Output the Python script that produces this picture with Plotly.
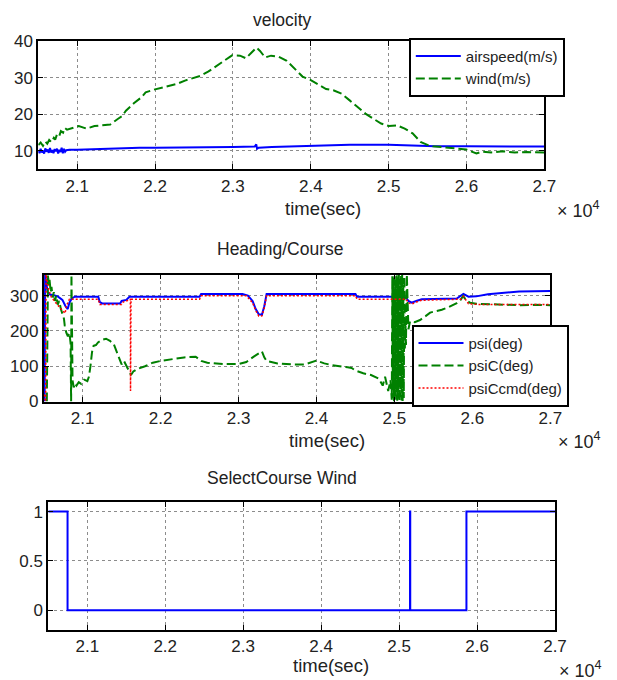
import plotly.graph_objects as go

W, H = 617, 680

# ---------------- data ----------------
# velocity panel
airspeed_t = [20500, 20515, 20530, 20545, 20560, 20575, 20590, 20605, 20620, 20635, 20650, 20665,
              20680, 20695, 20710, 20725, 20740, 20755, 20770, 20785, 20800, 20815, 20830, 20845,
              20860, 20900, 21000, 21200, 21500, 21800, 22000, 22500, 23000, 23280, 23300, 23310,
              23330, 23500, 24000, 24500, 25000, 25300, 25600, 26000, 26500, 27000]
airspeed_v = [10.2, 9.4, 10.6, 9.6, 10.1, 9.3, 10.7, 9.8, 10.4, 9.5, 10.8, 9.6,
              10.2, 9.4, 10.5, 9.9, 10.6, 9.3, 10.3, 9.7, 10.9, 9.4, 10.6, 9.8,
              10.2, 10.3, 10.3, 10.5, 10.6, 10.9, 10.9, 10.9, 11.1, 11.2, 11.8, 10.6,
              10.9, 11.1, 11.4, 11.7, 11.7, 11.5, 11.3, 11.3, 11.2, 11.2]

wind_t = [20500, 20530, 20560, 20590, 20615, 20640, 20670, 20700, 20717, 20740, 20768, 20790,
          20818, 20840, 20869, 20919, 21020, 21121, 21222, 21323, 21424, 21525, 21576, 21626,
          21727, 21828, 21879, 21980, 22081, 22182, 22283, 22384, 22485, 22586, 22687, 22788,
          22889, 22990, 23091, 23167, 23237, 23303, 23348, 23414, 23490, 23591, 23692, 23793,
          23894, 23995, 24096, 24197, 24298, 24399, 24500, 24601, 24702, 24803, 24904, 25005,
          25106, 25207, 25308, 25409, 25506, 25567, 25611, 25712, 25813, 25914, 26000, 26128,
          26192, 26318, 26470, 26621, 26773, 27000]
wind_v = [11.6, 12.3, 11.4, 12.6, 12.0, 13.0, 12.4, 13.6, 13.1, 14.5, 14.0, 15.4,
          15.0, 16.3, 15.8, 16.1, 16.8, 16.1, 16.8, 17.0, 17.2, 18.8, 19.5, 21.0,
          23.0, 24.7, 26.0, 26.7, 27.2, 27.7, 28.3, 29.2, 29.8, 30.5, 31.7, 33.2,
          34.8, 36.1, 36.0, 35.3, 36.8, 38.2, 37.3, 35.5, 36.0, 35.7, 34.6, 32.3,
          30.3, 29.4, 28.1, 26.9, 26.5, 25.6, 23.8, 22.0, 20.2, 18.8, 17.5, 16.8,
          17.0, 16.1, 14.8, 12.5, 11.6, 11.3, 11.2, 11.0, 10.9, 10.6, 10.4, 9.3,
          9.8, 9.6, 9.9, 9.6, 9.7, 9.6]

# heading / course panel
psi_t = [20505, 20512, 20518, 20530, 20550, 20580, 20620, 20680, 20740, 20780, 20808, 20830,
         20860, 20900, 21200, 21220, 21250, 21480, 21500, 21560, 21600, 22500, 22520, 23050,
         23120, 23180, 23220, 23260, 23300, 23330, 23360, 24500, 24520, 25000, 25150, 25180,
         25220, 25280, 25350, 25800, 25885, 25950, 26050, 26200, 26400, 26600, 27000]
psi_v = [15, 0, 360, 335, 310, 303, 302, 298, 288, 270, 262, 280,
         292, 297, 297, 282, 278, 278, 285, 288, 297, 297, 305, 305,
         300, 285, 262, 247, 246, 270, 305, 305, 297, 297, 295, 285,
         280, 285, 290, 292, 305, 297, 298, 304, 308, 312, 313]

psiC_t = [20540, 20555, 20565, 20575, 20590, 20600, 20615, 20630, 20645, 20660, 20680, 20700,
          20720, 20740, 20760, 20770, 20790, 20810, 20830, 20845, 20852, 20856, 20870, 20885,
          20900, 20920, 20950, 20980, 21020, 21060, 21080, 21100, 21120, 21140, 21170, 21200,
          21250, 21300, 21350, 21400, 21440, 21470, 21500, 21530, 21560, 21590, 21620, 21650,
          21700, 21800, 21900, 22000, 22100, 22200, 22300, 22450, 22520, 22600, 22800, 23000,
          23100, 23200, 23280, 23300, 23330, 23360, 23500, 23700, 23850, 24000, 24100, 24200,
          24400, 24450, 24500, 24600, 24700, 24800, 24850, 24880, 24920, 24950,
          24966, 24973, 24980, 24987, 24994, 25001, 25008, 25015, 25022, 25029, 25036, 25043,
          25050, 25057, 25064, 25071, 25078, 25085, 25092, 25099, 25106, 25113, 25120, 25127,
          25134, 25141, 25148, 25159, 25180, 25200, 25260, 25329, 25400, 25458, 25530, 25608,
          25700, 25800, 25850, 25881, 25930, 25970, 26050, 26200, 26400, 26600, 26800, 27000]
psiC_v = [0, 360, 330, 345, 310, 325, 295, 310, 285, 300, 275, 285,
          262, 250, 235, 215, 195, 185, 195, 165, 0, 360, 60, 40,
          52, 45, 55, 50, 62, 58, 70, 100, 140, 158, 160, 168,
          175, 178, 172, 162, 140, 120, 105, 115, 100, 85, 75, 85,
          92, 100, 110, 115, 118, 120, 125, 127, 115, 110, 106, 106,
          112, 128, 140, 142, 125, 115, 108, 105, 105, 116, 108, 103,
          97, 95, 88, 80, 75, 65, 45, 70, 30, 60,
          5, 355, 10, 350, 0, 360, 15, 345, 5, 358, 2, 352,
          8, 360, 0, 348, 12, 356, 3, 360, 0, 350, 10, 355,
          150, 230, 160, 360, 205, 227, 225, 231, 242, 252, 256, 260,
          268, 279, 288, 299, 285, 280, 277, 276, 275, 273, 274, 273]

psiCcmd_t = [20505, 20525, 20530, 20560, 20600, 20650, 20700, 20740, 20775, 20790, 20830, 21200,
             21220, 21500, 21520, 21600, 21612, 21614, 21620, 22500, 22520, 23100, 23180, 23220,
             23260, 23300, 23330, 23360, 24500, 24520, 25150, 25180, 25220, 25280, 25350, 25850,
             25885, 25950, 26100, 27000]
psiCcmd_v = [20, 0, 360, 320, 295, 280, 268, 258, 250, 270, 290, 290,
             275, 275, 282, 288, 290, 30, 290, 290, 300, 300, 280, 258,
             242, 243, 265, 300, 300, 290, 290, 280, 276, 282, 287, 290,
             298, 277, 275, 275]

# select course wind panel
select_t = [20500, 20747, 25140, 25143, 25864, 27000]
select_v = [1, 0, 1, 0, 1, 1]

xtick_vals = [21000, 22000, 23000, 24000, 25000, 26000, 27000]
xtick_text = ["2.1", "2.2", "2.3", "2.4", "2.5", "2.6", "2.7"]
vel_ticks = [10, 20, 30, 40]
head_ticks = [0, 100, 200, 300]
sel_ticks = [0, 0.5, 1]
sel_tick_text = ["0", "0.5", "1"]

# ---------------- layout helpers ----------------
def px(x):
    return x / W

def py(y):
    return 1 - y / H

FONT = "Liberation Sans, Arial, sans-serif"
TXT = "#222222"
BLUE = "rgb(0,0,255)"
GREEN = "rgb(0,128,0)"
RED = "rgb(255,0,0)"

panels = [
    # (x0, x1, ytop, ybottom)
    (38.3, 544.3, 41.0, 169.3),
    (43.7, 550.3, 274.5, 401.5),
    (48.3, 555.0, 501.7, 630.0),
]

fig = go.Figure()

fig.add_trace(go.Scatter(x=airspeed_t, y=airspeed_v, mode="lines", name="airspeed(m/s)",
                         line=dict(color=BLUE, width=2), xaxis="x", yaxis="y", legend="legend"))
fig.add_trace(go.Scatter(x=wind_t, y=wind_v, mode="lines", name="wind(m/s)",
                         line=dict(color=GREEN, width=2, dash="9px,4px"), xaxis="x", yaxis="y",
                         legend="legend"))

fig.add_trace(go.Scatter(x=psi_t, y=psi_v, mode="lines", name="psi(deg)",
                         line=dict(color=BLUE, width=2), xaxis="x2", yaxis="y2", legend="legend2"))
fig.add_trace(go.Scatter(x=psiC_t, y=psiC_v, mode="lines", name="psiC(deg)",
                         line=dict(color=GREEN, width=2, dash="9px,4px"), xaxis="x2", yaxis="y2",
                         legend="legend2"))
fig.add_trace(go.Scatter(x=psiCcmd_t, y=psiCcmd_v, mode="lines", name="psiCcmd(deg)",
                         line=dict(color=RED, width=1.5, dash="2px,2px"), xaxis="x2", yaxis="y2",
                         legend="legend2"))

fig.add_trace(go.Scatter(x=select_t, y=select_v, mode="lines", line_shape="hv",
                         line=dict(color=BLUE, width=2), xaxis="x3", yaxis="y3", showlegend=False))

common_axis = dict(
    showline=True, linecolor="black", linewidth=1.8, mirror="allticks",
    ticks="inside", ticklen=5, tickwidth=1.2, tickcolor="black",
    showgrid=True, gridcolor="rgb(140,140,140)", griddash="dot", gridwidth=1,
    zeroline=False, automargin=False,
    tickfont=dict(family=FONT, size=17, color=TXT),
)

LEG_FONT = dict(family=FONT, size=15, color=TXT)
layout = dict(
    width=W, height=H, margin=dict(l=0, r=0, t=0, b=0),
    paper_bgcolor="white", plot_bgcolor="white",
    showlegend=True,
    legend=dict(x=px(409), y=py(38), xanchor="left", yanchor="top", bgcolor="white",
                bordercolor="black", borderwidth=1.8, itemwidth=45,
                font=LEG_FONT, tracegroupgap=0),
    legend2=dict(x=px(411.7), y=py(325), xanchor="left", yanchor="top", bgcolor="white",
                 bordercolor="black", borderwidth=1.8, itemwidth=45,
                 font=LEG_FONT, tracegroupgap=0),
)

yranges = [[5, 40], [0, 360], [-0.2, 1.1]]
yticks = [(vel_ticks, [str(v) for v in vel_ticks]),
          (head_ticks, [str(v) for v in head_ticks]),
          (sel_ticks, sel_tick_text)]

for i, (x0, x1, yt, yb) in enumerate(panels):
    sfx = "" if i == 0 else str(i + 1)
    layout["xaxis" + sfx] = dict(common_axis, domain=[px(x0), px(x1)], range=[20500, 27000],
                                 tickvals=xtick_vals, ticktext=xtick_text,
                                 anchor="y" + sfx)
    layout["yaxis" + sfx] = dict(common_axis, domain=[py(yb), py(yt)], range=yranges[i],
                                 tickvals=yticks[i][0], ticktext=yticks[i][1],
                                 anchor="x" + sfx)

fig.update_layout(**layout)

titles = ["velocity", "Heading/Course", "SelectCourse Wind"]
title_pos = [(282, 20), (280, 249), (282, 478)]
xlabel_pos = [(323, 208), (327, 440), (331, 665)]
exp_pos = [(555, 209), (556, 440), (557, 669)]

for i in range(3):
    fig.add_annotation(x=px(title_pos[i][0]), y=py(title_pos[i][1]), xref="paper", yref="paper",
                       text=titles[i], showarrow=False, xanchor="center", yanchor="middle",
                       font=dict(family=FONT, size=17.5, color=TXT))
    fig.add_annotation(x=px(xlabel_pos[i][0]), y=py(xlabel_pos[i][1]), xref="paper", yref="paper",
                       text="time(sec)", showarrow=False, xanchor="center", yanchor="middle",
                       font=dict(family=FONT, size=18.5, color=TXT))
    fig.add_annotation(x=px(exp_pos[i][0]), y=py(exp_pos[i][1]), xref="paper", yref="paper",
                       text="× 10<sup>4</sup>", showarrow=False, xanchor="left", yanchor="middle",
                       font=dict(family=FONT, size=18, color=TXT))

fig.write_html("out.html")
